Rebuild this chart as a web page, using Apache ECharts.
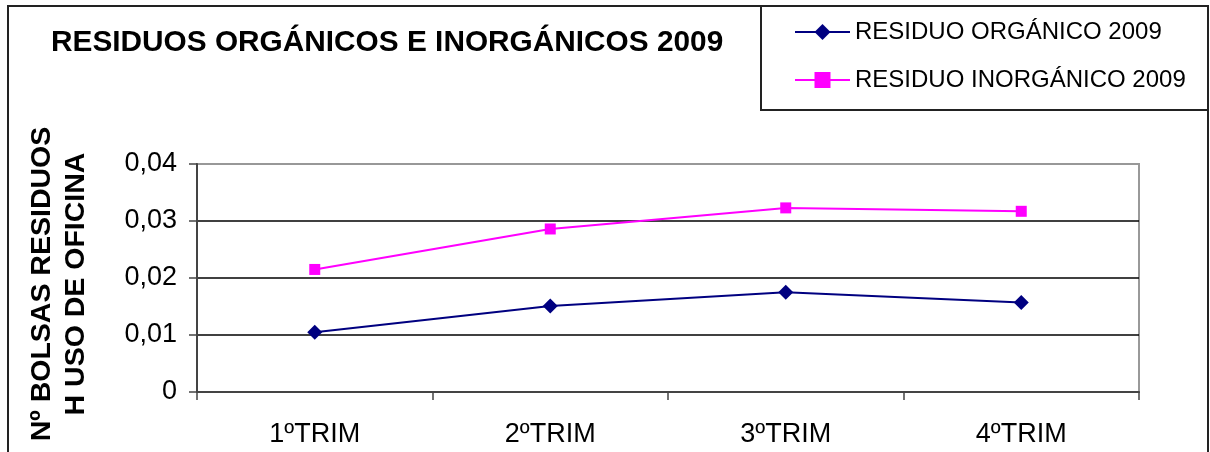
<!DOCTYPE html>
<html>
<head>
<meta charset="utf-8">
<script src="https://cdn.jsdelivr.net/npm/echarts@6/dist/echarts.min.js"></script>
<style>
    html, body { margin: 0; padding: 0; background: #fff; }
    #chart { width: 1210px; height: 452px; }
</style>
</head>
<body>
<div id="chart"></div>
<script>
    // datos
    var categories = ['1ºTRIM', '2ºTRIM', '3ºTRIM', '4ºTRIM'];
    var organico = [0.0105, 0.0151, 0.0175, 0.0157];
    var inorganico = [0.0215, 0.0286, 0.0323, 0.0317];
    var seriesNames = ['RESIDUO ORGÁNICO 2009', 'RESIDUO INORGÁNICO 2009'];
    var yTicks = { min: 0, max: 0.04, interval: 0.01 };

    var font = '"Liberation Sans", Arial, sans-serif';
    var myChart = echarts.init(document.getElementById('chart'));

    var option = {
        animation: false,
        backgroundColor: '#fff',
        title: {
            text: 'RESIDUOS ORGÁNICOS E INORGÁNICOS 2009',
            left: 51,
            top: 28,
            padding: 0,
            textStyle: {
                fontFamily: font,
                fontWeight: 'bold',
                fontSize: 29.8,
                color: '#000'
            }
        },
        legend: {
            orient: 'vertical',
            left: 794,
            top: 19,
            padding: 0,
            itemWidth: 55,
            itemHeight: 20,
            itemGap: 22,
            data: seriesNames,
            textStyle: {
                fontFamily: font,
                fontSize: 24,
                color: '#000',
                lineHeight: 26
            }
        },
        graphic: [
            {
                type: 'rect',
                shape: { x: 8, y: 6, width: 1200, height: 470 },
                style: { fill: 'none', stroke: '#222', lineWidth: 2 },
                z: -1
            },
            {
                type: 'rect',
                shape: { x: 761, y: 6, width: 447, height: 104 },
                style: { fill: 'none', stroke: '#222', lineWidth: 2 },
                z: -1
            }
        ],
        grid: {
            left: 197,
            right: 71,
            top: 164,
            bottom: 60,
            show: true,
            borderColor: '#999',
            borderWidth: 2,
            backgroundColor: '#fff'
        },
        xAxis: {
            type: 'category',
            data: categories,
            boundaryGap: true,
            axisLine: { lineStyle: { color: '#444', width: 2 } },
            axisTick: { show: true, length: 8, lineStyle: { color: '#444', width: 1.5 } },
            axisLabel: {
                fontFamily: font,
                fontSize: 27,
                color: '#000',
                margin: 29
            },
            splitLine: { show: false }
        },
        yAxis: {
            type: 'value',
            min: yTicks.min,
            max: yTicks.max,
            interval: yTicks.interval,
            name: 'Nº BOLSAS RESIDUOS\nH USO DE OFICINA',
            nameLocation: 'middle',
            nameRotate: 90,
            nameGap: 104,
            nameTextStyle: {
                fontFamily: font,
                fontWeight: 'bold',
                fontSize: 28.5,
                lineHeight: 34,
                color: '#000',
                padding: [0, 12, 0, 0]
            },
            axisLine: { show: true, lineStyle: { color: '#444', width: 2 } },
            axisTick: { show: true, length: 8, lineStyle: { color: '#444', width: 1.5 } },
            axisLabel: {
                fontFamily: font,
                fontSize: 27,
                color: '#000',
                margin: 20,
                formatter: function (v) {
                    return v === 0 ? '0' : v.toFixed(2).replace('.', ',');
                }
            },
            splitLine: {
                lineStyle: {
                    color: ['#000', '#000', '#000', '#000', '#999'],
                    width: 1.5
                }
            }
        },
        series: [
            {
                name: seriesNames[0],
                type: 'line',
                data: organico,
                symbol: 'diamond',
                symbolSize: 15,
                lineStyle: { color: '#000080', width: 2 },
                itemStyle: { color: '#000080' }
            },
            {
                name: seriesNames[1],
                type: 'line',
                data: inorganico,
                symbol: 'rect',
                symbolSize: 11,
                lineStyle: { color: '#FF00FF', width: 2 },
                itemStyle: { color: '#FF00FF' }
            }
        ]
    };
    myChart.setOption(option, true);
</script>
</body>
</html>
